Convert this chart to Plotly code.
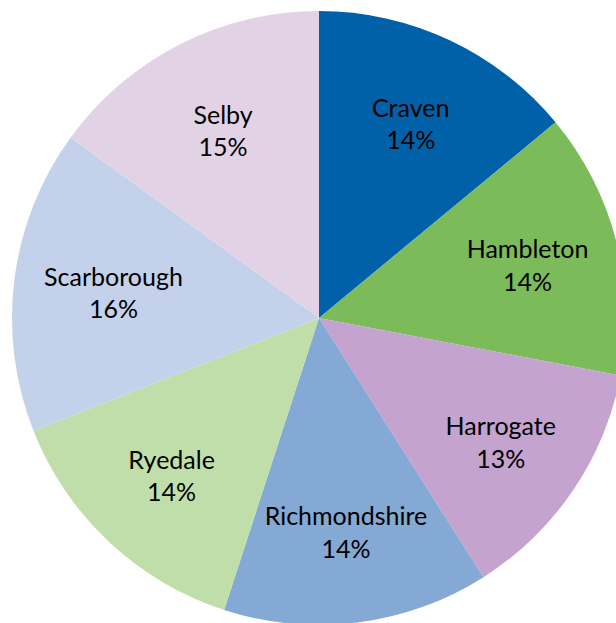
import plotly.graph_objects as go

districts = ["Craven", "Hambleton", "Harrogate", "Richmondshire", "Ryedale", "Scarborough", "Selby"]
shares = [14, 14, 13, 14, 14, 16, 15]
colours = ["#0061A8", "#7CBB5A", "#C4A3CE", "#84A9D4", "#BFDEAA", "#C3D2EA", "#E2D2E6"]

W = 640
H = 640

fig = go.Figure(go.Pie(
    labels=districts,
    values=shares,
    sort=False,
    direction="clockwise",
    rotation=0,
    marker=dict(colors=colours, line=dict(width=0)),
    texttemplate="%{label}<br>%{value}%",
    textposition="inside",
    insidetextorientation="horizontal",
    textfont=dict(family="Lato", size=25, color="black"),
    domain=dict(x=[12 / W, 626 / W], y=[15 / H, 629 / H]),
    hoverinfo="label+percent",
))

fig.update_layout(
    width=W, height=H,
    margin=dict(l=0, r=0, t=0, b=0),
    showlegend=False,
    paper_bgcolor="white",
    uniformtext=dict(minsize=25, mode="show"),
)

fig.write_html("out.html", config={"displayModeBar": False},
               post_script="document.body.style.margin='0';document.body.style.overflow='hidden';")
